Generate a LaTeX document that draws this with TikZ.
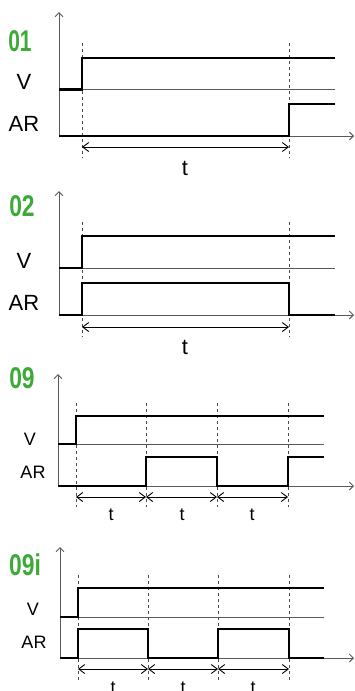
\documentclass[tikz,border=0pt]{standalone}
\usepackage{fontspec}
\usepackage{graphicx}
\setmainfont{Liberation Sans}
\usetikzlibrary{arrows.meta}
\definecolor{lblgreen}{HTML}{3CAA36}
\definecolor{axisgray}{HTML}{5A5A5A}
\tikzset{
  axisline/.style={draw=axisgray, line width=0.9pt, -{Straight Barb[length=4pt,width=8pt]}},
  refline/.style={draw=axisgray, line width=0.9pt},
  signal/.style={draw=black, line width=2.2pt, line join=miter},
  guide/.style={draw=black!70, line width=0.8pt, dash pattern=on 3pt off 3pt},
  dimline/.style={draw=black, line width=0.9pt, {Straight Barb[length=6pt,width=9pt]}-{Straight Barb[length=6pt,width=9pt]}},
  biglbl/.style={text=lblgreen, font=\fontsize{30}{30}\selectfont\bfseries, inner sep=0pt},
  sigtxt/.style={font=\fontsize{22}{22}\selectfont, inner sep=0pt},
  sigtxtsm/.style={font=\fontsize{18}{18}\selectfont, inner sep=0pt},
}
\begin{document}
\begin{tikzpicture}[x=1pt,y=-1pt]
\useasboundingbox (0,0) rectangle (354,691);

% ---------------- 01 ----------------
\draw[axisline] (59,136) -- (59,12);
\draw[axisline] (59,136) -- (354,136);
\draw[refline] (59,89.5) -- (335,89.5);
\draw[guide] (82,43) -- (82,158);
\draw[guide] (289,43) -- (289,158);
\draw[signal] (59,89.5) -- (82,89.5) -- (82,57.7) -- (335,57.7);
\draw[signal] (59,136) -- (289,136) -- (289,104) -- (335,104);
\draw[dimline] (82,147) -- (289,147);
\node[sigtxt] (t1) at (185,168) {t};
\node[biglbl] (l1) at (20,41) {\scalebox{0.7}[1]{01}};
\node[sigtxt] (v1) at (24,82) {V};
\node[sigtxt] (a1) at (24,124) {AR};

% ---------------- 02 ----------------
\draw[axisline] (59,315) -- (59,191);
\draw[axisline] (59,315) -- (354,315);
\draw[refline] (59,268) -- (335,268);
\draw[guide] (82,222) -- (82,337);
\draw[guide] (289,222) -- (289,337);
\draw[signal] (59,268) -- (82,268) -- (82,236) -- (335,236);
\draw[signal] (59,315) -- (82,315) -- (82,283) -- (289,283) -- (289,315) -- (335,315);
\draw[dimline] (82,327) -- (289,327);
\node[sigtxt] (t2) at (185,347) {t};
\node[biglbl] (l2) at (22,206) {\scalebox{0.76}[1]{02}};
\node[sigtxt] (v2) at (24,261) {V};
\node[sigtxt] (a2) at (24,303) {AR};

% ---------------- 09 ----------------
\draw[axisline] (58,486) -- (58,374);
\draw[axisline] (58,486) -- (354,486);
\draw[refline] (58,444) -- (324,444);
\foreach \xx in {76,146,217,288} \draw[guide] (\xx,403) -- (\xx,507);
\draw[signal] (58,444) -- (76,444) -- (76,416) -- (324,416);
\draw[signal] (58,486) -- (146,486) -- (146,457) -- (217,457) -- (217,486) -- (288,486) -- (288,457) -- (324,457);
\draw[dimline] (76,497) -- (146,497);
\draw[dimline] (146,497) -- (217,497);
\draw[dimline] (217,497) -- (288,497);
\node[sigtxtsm] (t3a) at (111,515) {t};
\node[sigtxtsm] (t3b) at (182,515) {t};
\node[sigtxtsm] (t3c) at (252,515) {t};
\node[biglbl] (l3) at (22,378) {\scalebox{0.76}[1]{09}};
\node[sigtxtsm] (v3) at (30,439) {V};
\node[sigtxtsm] (a3) at (33,472) {AR};

% ---------------- 09i ----------------
\draw[axisline] (60,658) -- (60,547);
\draw[axisline] (60,658) -- (354,658);
\draw[refline] (60,617) -- (324,617);
\foreach \xx in {78,148,218,289} \draw[guide] (\xx,575) -- (\xx,682);
\draw[signal] (60,617) -- (78,617) -- (78,588) -- (324,588);
\draw[signal] (60,658) -- (78,658) -- (78,629) -- (148,629) -- (148,658) -- (218,658) -- (218,629) -- (289,629) -- (289,658) -- (324,658);
\draw[dimline] (78,669) -- (148,669);
\draw[dimline] (148,669) -- (218,669);
\draw[dimline] (218,669) -- (289,669);
\node[sigtxtsm] (t4a) at (113,688) {t};
\node[sigtxtsm] (t4b) at (183,688) {t};
\node[sigtxtsm] (t4c) at (253,688) {t};
\node[biglbl] (l4) at (25,565) {\scalebox{0.76}[1]{09i}};
\node[sigtxtsm] (v4) at (33,609) {V};
\node[sigtxtsm] (a4) at (34,642) {AR};
\end{tikzpicture}
\end{document}
